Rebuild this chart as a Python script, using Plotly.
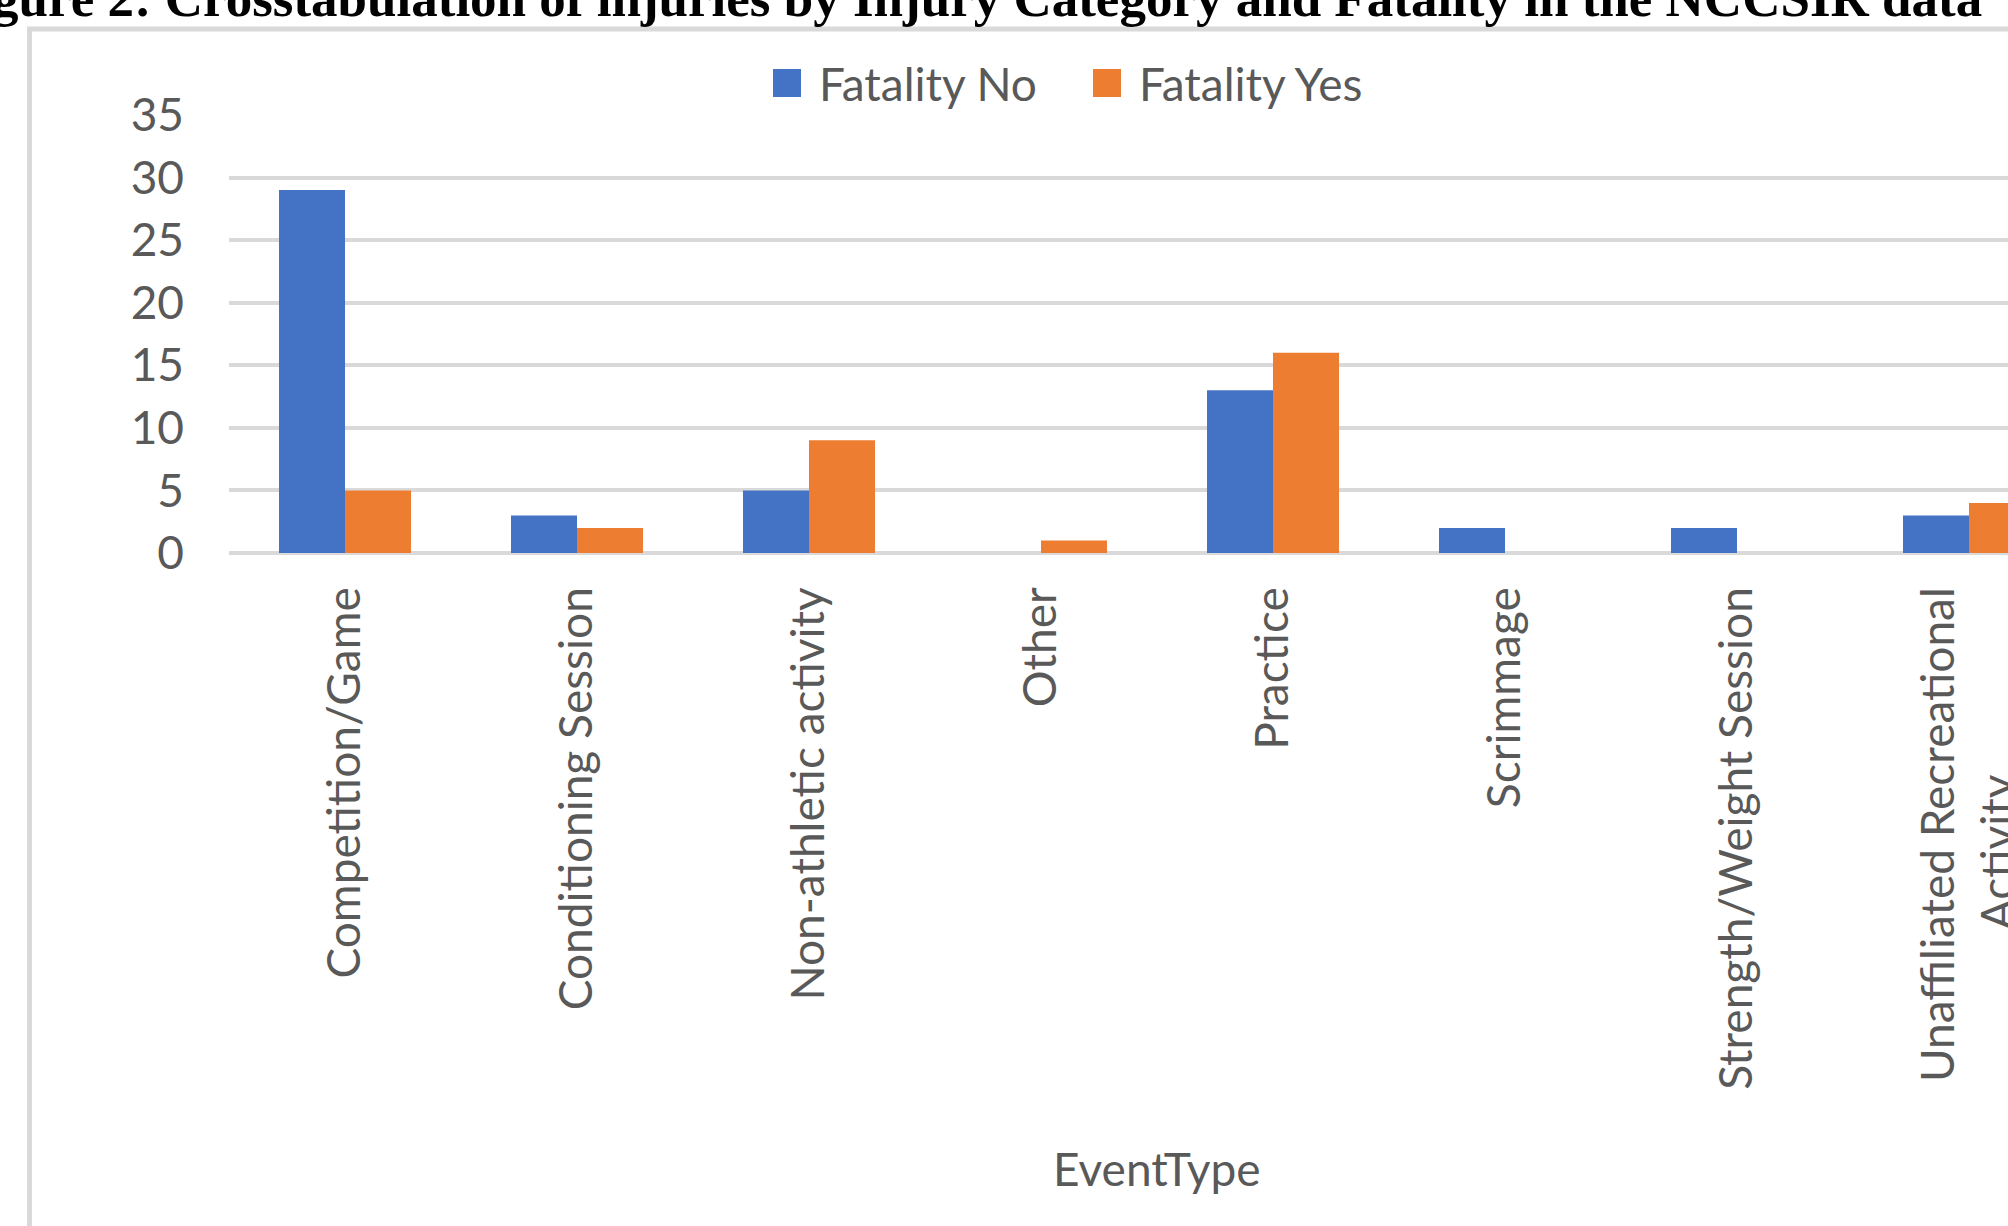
import plotly.graph_objects as go

# ---- data ----
categories = [
    "Competition/Game",
    "Conditioning Session",
    "Non-athletic activity",
    "Other",
    "Practice",
    "Scrimmage",
    "Strength/Weight Session",
    "Unaffiliated Recreational Activity",
]
tick_labels = [
    "Competition/Game",
    "Conditioning Session",
    "Non-athletic activity",
    "Other",
    "Practice",
    "Scrimmage",
    "Strength/Weight Session",
    "Unaffiliated Recreational<br>Activity" + "\u00a0" * 16,
]
fatality_no = [29, 3, 5, 0, 13, 2, 2, 3]
fatality_yes = [5, 2, 9, 1, 16, 0, 0, 4]
series_names = ["Fatality No", "Fatality Yes"]
y_ticks = [0, 5, 10, 15, 20, 25, 30, 35]
title_text = "Figure 2: Crosstabulation of injuries by Injury Category and Fatality in the NCCSIR data"
x_title = "EventType"

# ---- layout geometry (pixels) ----
W, H = 2008, 1226
L, T = 229, 115
PLOT_BOTTOM = 553
R = 0
B = H - PLOT_BOTTOM
PW = W - L - R
PH = PLOT_BOTTOM - T
CAT_W = 232.0


def px_x(p):
    return (p - L) / PW


def px_y(p):
    return (PLOT_BOTTOM - p) / PH


BLUE = "#4472C4"
ORANGE = "#ED7D31"
TEXT = "#595959"
GRID = "#D9D9D9"
FONT = "Lato"
FS = 46

fig = go.Figure()
fig.add_trace(go.Bar(x=categories, y=fatality_no, name=series_names[0],
                     marker=dict(color=BLUE, line=dict(width=0)), showlegend=False))
fig.add_trace(go.Bar(x=categories, y=fatality_yes, name=series_names[1],
                     marker=dict(color=ORANGE, line=dict(width=0)), showlegend=False))

shapes = []
# chart-area frame (extends past the cropped edges)
shapes.append(dict(type="rect", xref="paper", yref="paper",
                   x0=px_x(29.5), x1=px_x(2200), y0=px_y(29), y1=px_y(1400),
                   line=dict(color=GRID, width=5), fillcolor="rgba(0,0,0,0)", layer="below"))
# legend swatches
legend_items = [(773, BLUE, 817, series_names[0]), (1093, ORANGE, 1137, series_names[1])]
annotations = []
for sx, col, tx, name in legend_items:
    shapes.append(dict(type="rect", xref="paper", yref="paper",
                       x0=px_x(sx), x1=px_x(sx + 28), y0=px_y(97), y1=px_y(69),
                       line=dict(width=0), fillcolor=col))
    annotations.append(dict(text=name, xref="paper", yref="paper", x=px_x(tx), y=px_y(83),
                            xanchor="left", yanchor="middle", showarrow=False,
                            font=dict(family=FONT, size=FS, color=TEXT)))

# axis title centred on the full (cropped) plot area
annotations.append(dict(text=x_title, xref="x", yref="paper", x=3.5, y=px_y(1168),
                        xanchor="center", yanchor="middle", showarrow=False,
                        font=dict(family=FONT, size=FS, color=TEXT)))
# document caption, cut by the top edge
annotations.append(dict(text="<b>" + title_text + "</b>", xref="paper", yref="paper",
                        x=px_x(1984), y=px_y(29.5), xanchor="right", yanchor="bottom",
                        showarrow=False,
                        font=dict(family="Liberation Serif", size=53, color="#000000")))

fig.update_layout(
    width=W, height=H,
    margin=dict(l=L, r=R, t=T, b=B, pad=0),
    paper_bgcolor="white", plot_bgcolor="white",
    barmode="group", bargap=100 / CAT_W, bargroupgap=0,
    showlegend=False,
    shapes=shapes, annotations=annotations,
    font=dict(family=FONT, size=FS, color=TEXT),
    xaxis=dict(
        type="category", categoryorder="array", categoryarray=categories,
        range=[-0.5, -0.5 + PW / CAT_W],
        tickmode="array", tickvals=categories, ticktext=tick_labels,
        tickangle=-90, showgrid=False, showline=False, zeroline=False,
        ticks="", automargin=False, ticklabelstandoff=24,
        tickfont=dict(family=FONT, size=FS, color=TEXT),
    ),
    yaxis=dict(
        range=[0, 35], tickmode="array", tickvals=y_ticks,
        showgrid=True, gridcolor=GRID, gridwidth=3.5,
        zeroline=True, zerolinecolor=GRID, zerolinewidth=3.5,
        showline=False, ticks="", automargin=False, ticklabelstandoff=44,
        tickfont=dict(family=FONT, size=FS, color=TEXT),
    ),
)

fig.write_html("out.html")
